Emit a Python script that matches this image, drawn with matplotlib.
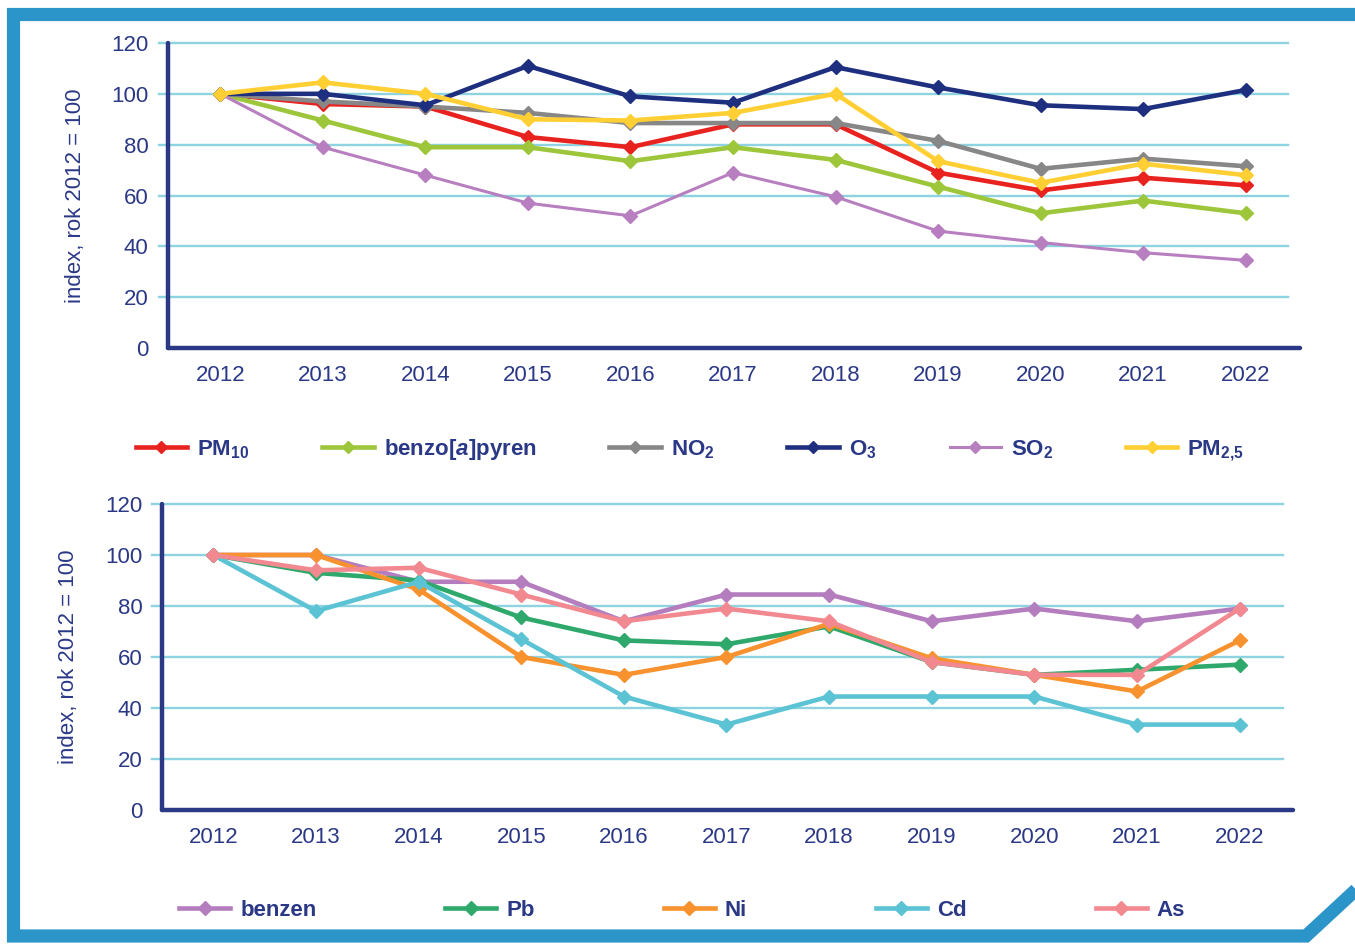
import matplotlib
matplotlib.use("Agg")
import matplotlib.pyplot as plt
from matplotlib.lines import Line2D

plt.rcParams["font.family"] = ["Liberation Sans", "DejaVu Sans"]
plt.rcParams["mathtext.fontset"] = "custom"
plt.rcParams["mathtext.rm"] = "Liberation Sans:bold"
plt.rcParams["mathtext.bf"] = "Liberation Sans:bold"
plt.rcParams["mathtext.it"] = "Liberation Sans:italic:bold"

years = list(range(2012, 2023))
ytick_vals = [0, 20, 40, 60, 80, 100, 120]

# upper chart: air pollutants, index 2012 = 100
pm10 = [100, 96, 95, 83, 79, 88, 88, 69, 62, 67, 64]
benzo_a_pyren = [100, 89.5, 79, 79, 73.5, 79, 74, 63.5, 53, 58, 53]
no2 = [100, 97, 95, 92.5, 88.5, 88.5, 88.5, 81.5, 70.5, 74.5, 71.5]
o3 = [100, 100, 95.5, 111, 99, 96.5, 110.5, 102.5, 95.5, 94, 101.5]
so2 = [100, 79, 68, 57, 52, 69, 59.5, 46, 41.5, 37.5, 34.5]
pm25 = [100, 104.5, 100, 90, 89.5, 92.5, 100, 73.5, 65, 72.5, 68]

# lower chart: benzene and heavy metals
benzen = [100, 100, 89.5, 89.5, 74, 84.5, 84.5, 74, 79, 74, 79]
pb = [100, 93, 90, 75.5, 66.5, 65, 72, 58, 53, 55, 57]
ni = [100, 100, 86.5, 60, 53, 60, 73, 59.5, 53, 46.5, 66.5]
cd = [100, 78, 89.5, 67, 44.5, 33.5, 44.5, 44.5, 44.5, 33.5, 33.5]
as_ = [100, 94, 95, 84.5, 74, 79, 74, 58, 53, 53, 79]

NAVY = "#2b3886"
GRID = "#8fd3e0"
FRAME = "#2b94c8"

W, H = 1355, 944
fig = plt.figure(figsize=(W / 100, H / 100), dpi=100)
fig.patch.set_facecolor("white")


def fx(px):
    return px / W


def fy(py):
    return 1 - py / H


def style_axes(ax, left, right, grid_x):
    ax.set_ylim(0, 120)
    ax.set_xlim(left, right)
    ax.set_xticks(years)
    ax.set_yticks(ytick_vals)
    ax.tick_params(length=0, labelsize=16, labelcolor=NAVY)
    ax.tick_params(axis="y", pad=14)
    ax.tick_params(axis="x", pad=12)
    for s in ("top", "right"):
        ax.spines[s].set_visible(False)
    for s in ("left", "bottom"):
        ax.spines[s].set_color(NAVY)
        ax.spines[s].set_linewidth(3.2)
        ax.spines[s].set_capstyle("round")
    for v in ytick_vals[1:]:
        ax.plot(grid_x, [v, v], color=GRID, lw=1.7, zorder=0, clip_on=False)
    ax.set_ylabel("index, rok 2012 = 100", fontsize=16, color=NAVY)


# top chart
a1_left, a1_w = 168, 1300 - 168
ax1 = fig.add_axes([fx(a1_left), fy(348), fx(a1_w), fy(43) - fy(348)])
style_axes(ax1, 2011.49, 2022.53, [2011.40, 2022.41])
top_series = [
    (pm10, "#e8231f", 3.3, r"PM$_{10}$"),
    (benzo_a_pyren, "#9dc63b", 3.3, r"benzo[$\it{a}$]pyren"),
    (no2, "#878787", 3.3, r"NO$_{2}$"),
    (o3, "#1f2f80", 3.3, r"O$_{3}$"),
    (so2, "#b77fbf", 2.2, r"SO$_{2}$"),
    (pm25, "#ffcf33", 3.3, r"PM$_{2{,}5}$"),
]
handles = []
for vals, col, lw, lab in top_series:
    ax1.plot(years, vals, color=col, lw=lw, marker="D", ms=7, clip_on=False, zorder=3)
    handles.append(Line2D([], [], color=col, lw=lw, marker="D", ms=6.5, label=lab))
ax1.yaxis.set_label_coords((86 - a1_left) / a1_w, 0.5)
fig.legend(handles=handles, loc="center", bbox_to_anchor=(fx(690), fy(450)), ncol=6,
           frameon=False, handlelength=2.3, handletextpad=0.45, columnspacing=3.3,
           numpoints=1, prop={"size": 16, "weight": "bold"}, labelcolor=NAVY)

# bottom chart
a2_left, a2_w = 162, 1293 - 162
ax2 = fig.add_axes([fx(a2_left), fy(810), fx(a2_w), fy(504) - fy(810)])
style_axes(ax2, 2011.50, 2022.52, [2011.40, 2022.42])
bottom_series = [
    (benzen, "#b47dbe", "benzen"),
    (pb, "#2fa86c", "Pb"),
    (ni, "#f7922f", "Ni"),
    (cd, "#5bc3d3", "Cd"),
    (as_, "#f28890", "As"),
]
handles2 = []
for vals, col, lab in bottom_series:
    ax2.plot(years, vals, color=col, lw=3.3, marker="D", ms=7.5, clip_on=False, zorder=3)
    handles2.append(Line2D([], [], color=col, lw=3.3, marker="D", ms=7.5, label=lab))
ax2.yaxis.set_label_coords((79 - a2_left) / a2_w, 0.5)
fig.legend(handles=handles2, loc="center", bbox_to_anchor=(fx(682), fy(910)), ncol=5,
           frameon=False, handlelength=2.3, handletextpad=0.45, columnspacing=5.8,
           numpoints=1, prop={"size": 16, "weight": "bold"}, labelcolor=NAVY)

# blue frame with cut corner
frame = Line2D([fx(1360), fx(13.5), fx(13.5), fx(1306), fx(1360)],
               [fy(14.5), fy(14.5), fy(936), fy(936), fy(886)],
               transform=fig.transFigure, color=FRAME, lw=9.5,
               solid_joinstyle="miter", solid_capstyle="butt")
fig.add_artist(frame)

fig.savefig("out.png", dpi=100)
